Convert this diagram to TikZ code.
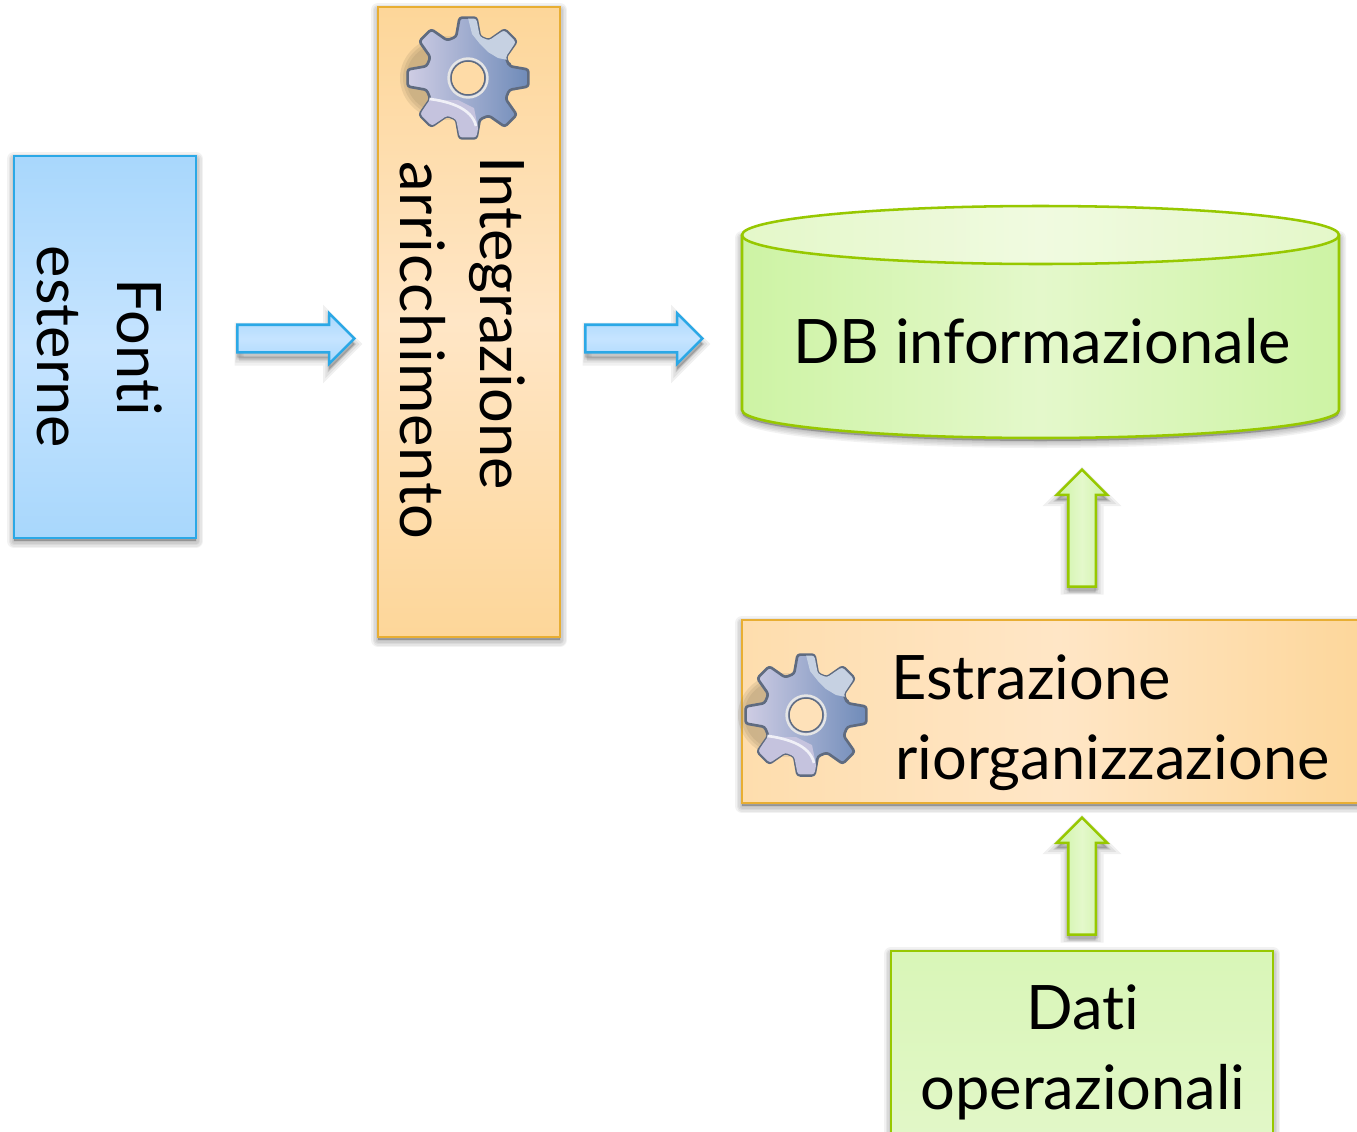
\documentclass[tikz,border=0pt]{standalone}
\usepackage{fontspec}
\setmainfont[Ligatures={NoCommon}]{Lato}
\usetikzlibrary{shapes.arrows}
\newdimen\pxu \pxu=0.75pt
\definecolor{orEdge}{HTML}{FDD699}\definecolor{orMid}{HTML}{FFE6C6}\definecolor{orLine}{HTML}{E8AE33}
\definecolor{blEdge}{HTML}{A8D7FC}\definecolor{blMid}{HTML}{C6E4FF}\definecolor{blLine}{HTML}{2BA8E6}
\definecolor{grEdge}{HTML}{CDF3A4}\definecolor{grMid}{HTML}{E4F8CB}\definecolor{grLine}{HTML}{97C800}
\definecolor{grTop}{HTML}{F0FAE0}\definecolor{grTopE}{HTML}{E4F8C9}
\definecolor{gearLine}{HTML}{5F6B80}\definecolor{gearL}{HTML}{CFCDE4}\definecolor{gearR}{HTML}{6F8BB9}
\definecolor{gearPatch}{HTML}{C6D1E2}\definecolor{gearLow}{HTML}{C5C3DE}\definecolor{gearShade}{HTML}{8A7A5A}
\tikzset{
  boxbase/.style={rectangle,inner sep=0pt,line width=1.9pt},
  orangeV/.style={boxbase,draw=orLine,top color=orEdge,bottom color=orEdge,middle color=orMid},
  orangeH/.style={boxbase,draw=orLine,left color=orEdge!55!orMid,right color=orEdge,middle color=orMid},
  blueV/.style={boxbase,draw=blLine,top color=blEdge,bottom color=blEdge,middle color=blMid},
  greenV/.style={boxbase,draw=grLine,top color=grEdge!50!grMid,bottom color=grMid},
  lab/.style={inner sep=0pt,font=\fontsize{46}{60}\selectfont,text=black},
  arrowshape/.style={single arrow,single arrow tip angle=90,single arrow head extend=11.5*\pxu,
     inner xsep=0pt,inner ysep=12.5*\pxu,minimum height=117*\pxu,line width=1.9pt,anchor=center},
  bluearrow/.style={arrowshape,draw=blLine,top color=blEdge,bottom color=blEdge,middle color=blMid},
  greenarrow/.style={arrowshape,rotate=90,draw=grLine,left color=grEdge,right color=grEdge,middle color=grMid},
}
\newcommand\softshadow[1]{\foreach \w in {14,11,8,5,2}{\path[fill=black,draw=black,line join=round,opacity=.05,line width=\w*\pxu,yshift=-3*\pxu] #1;}}
\newcommand\arrowshadow[2]{\foreach \w in {9,6,3,1}{\node[arrowshape,#2,fill=black,draw=black,opacity=.06,line width=\w*\pxu] at #1 {};}}
\newcommand\gearicon[2]{%
 \begin{scope}[shift={#1}]
  \foreach \w in {8,5,2}{\fill[gearShade,opacity=.16] (-22,0) ellipse ({(38+\w)} and {(34+\w)});}
  \path[rounded corners=2pt,left color=gearL,right color=gearR,draw=gearLine,line width=2pt,line join=round]
    (-16:43) \foreach \a in {0,45,...,315}{ -- (\a-16:43) -- (\a-8:61) -- (\a+8:61) -- (\a+16:43)} -- cycle;
  \begin{scope}
   \clip[rounded corners=2pt] (-16:43) \foreach \a in {0,45,...,315}{ -- (\a-16:43) -- (\a-8:60) -- (\a+8:60) -- (\a+16:43)} -- cycle;
   \fill[gearPatch] (0,-60) -- (4,-44) -- (12,-34) -- (20,-26) -- (30,-20) -- (40,-18) -- (60,-24) -- (60,-60) -- cycle;
   \fill[gearLow] (-60,14) -- (-30,22) -- (-10,22) -- (6,30) -- (12,60) -- (-60,60) -- cycle;
   \draw[white!75!gearLow,line width=2pt] (-48,20) .. controls (-20,22) and (4,30) .. (8,48);
  \end{scope}
  \fill[#2] (0,0) circle (17);
  \draw[gearLine,line width=1.1pt] (0,0) circle (17);
  \draw[white!80!gray,line width=1.8pt] (0,0) circle (19.5);
 \end{scope}}
\begin{document}
\begin{tikzpicture}[x=0.75pt,y=-0.75pt]
\useasboundingbox (0,0) rectangle (1357,1132);
\clip (0,0) rectangle (1357,1132);
\fill[white] (0,0) rectangle (1357,1132);
% shadows
\softshadow{(14,156) rectangle (196,538)}
\softshadow{(378,7) rectangle (560,637)}
\softshadow{(742,620) rectangle (1375,803)}
\softshadow{(891,951) rectangle (1273,1180)}
\softshadow{(742,235) -- (742,410) .. controls (742,425) and (875,438) .. (1040.5,438) .. controls (1206,438) and (1339,425) .. (1339,410) -- (1339,235) -- cycle}
\arrowshadow{(289,344)}{}
\arrowshadow{(637,344)}{}
\arrowshadow{(1082,540)}{rotate=90}
\arrowshadow{(1082,888)}{rotate=90}
% boxes
\node[blueV,minimum width=182*\pxu,minimum height=382*\pxu] (fonti) at (105,347) {};
\node[orangeV,minimum width=182*\pxu,minimum height=630*\pxu] (integr) at (469,322) {};
\node[orangeH,minimum width=633*\pxu,minimum height=183*\pxu] (estr) at (1058.5,711.5) {};
\node[greenV,minimum width=382*\pxu,minimum height=229*\pxu] (dati) at (1082,1065.5) {};
% cylinder
\path[draw=grLine,line width=1.9pt,left color=grEdge,right color=grEdge,middle color=grMid,line join=round]
  (742,235) -- (742,410) .. controls (742,425) and (875,438) .. (1040.5,438) .. controls (1206,438) and (1339,425) .. (1339,410) -- (1339,235) -- cycle;
\path[draw=grLine,line width=1.9pt,left color=grTopE,right color=grTopE,middle color=grTop]
  (742,235) .. controls (742,219) and (875,206) .. (1040.5,206) .. controls (1206,206) and (1339,219) .. (1339,235) .. controls (1339,251) and (1206,264) .. (1040.5,264) .. controls (875,264) and (742,251) .. (742,235) -- cycle;
% arrows
\node[bluearrow] (a1) at (289,338.5) {};
\node[bluearrow] (a2) at (637,338.5) {};
\node[greenarrow] (a3) at (1082,535) {};
\node[greenarrow] (a4) at (1082,883) {};
% gears
\gearicon{(468,78)}{orEdge!70!orMid}
\gearicon{(806,715)}{orMid!70!orEdge}
% labels
\node[lab,rotate=-90,align=center] (tfonti) at (100,347) {Fonti\\esterne};
\node[lab,rotate=-90,align=left] (tinteg) at (463,348) {Integrazione\\\hspace*{3.7pt}{\addfontfeatures{LetterSpace=1}arricchimento}};
\node[lab,align=left,anchor=north west] (testr) at (891,654) {Estrazione\\\hspace*{3pt}riorganizzazione};
\node[lab,align=center] (tdati) at (1083,1052) {Dati\\operazionali};
\node[lab] (tdb) at (1042,341) {DB informazionale};
\end{tikzpicture}
\end{document}
